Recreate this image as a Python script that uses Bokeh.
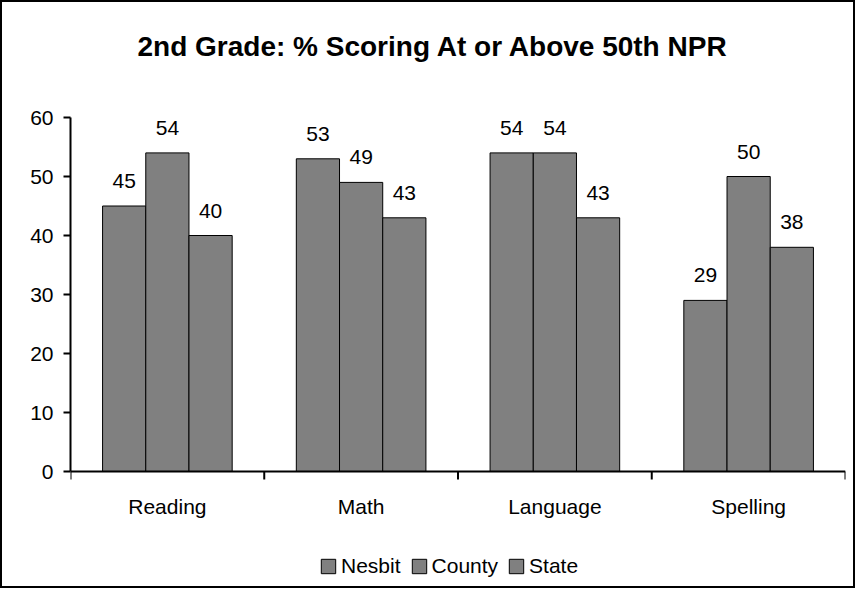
import numpy as np
from bokeh.plotting import figure
from bokeh.models import (Range1d, FixedTicker, LinearAxis, Legend, LegendItem,
                          ColumnDataSource, Span, Label)
from bokeh.core.properties import value
from bokeh.embed import file_html
from bokeh.resources import INLINE

categories = ["Reading", "Math", "Language", "Spelling"]
series_names = ["Nesbit", "County", "State"]
nesbit = [45, 53, 54, 29]
county = [54, 49, 54, 50]
state = [40, 43, 43, 38]
y_ticks = [0, 10, 20, 30, 40, 50, 60]
title_text = "2nd Grade: % Scoring At or Above 50th NPR"

FONT = "Liberation Sans"
BAR_COLOR = "#808080"
BAR_W = 0.223

# layout (pixels)
FRAME_W = 775
PLOT_H = 354            # pixel height of the 0..60 value span
ABOVE = 113             # frame space above the value 60 (title area)
BELOW = 115             # frame space below the value 0 (labels + legend)
FRAME_H = ABOVE + PLOT_H + BELOW

n = len(categories)
centers = np.arange(n) + 0.5
bounds = list(np.arange(n + 1).astype(float))
ymax = y_ticks[-1]
px = PLOT_H / ymax

p = figure(frame_width=FRAME_W, frame_height=FRAME_H, output_backend="svg",
           toolbar_location=None,
           x_range=Range1d(0, n), y_range=Range1d(-BELOW / px, ymax + ABOVE / px),
           x_axis_type=None, y_axis_type=None,
           min_border_left=68, min_border_right=8,
           min_border_top=2, min_border_bottom=0)
p.outline_line_color = None
p.xgrid.visible = False
p.ygrid.visible = False
p.styles = {"border": "2px solid black"}

renderers = []
for i, (name, vals) in enumerate(zip(series_names, [nesbit, county, state])):
    xs = centers + (i - 1) * BAR_W
    src = ColumnDataSource(dict(x=xs, top=vals, label=[str(v) for v in vals]))
    r = p.vbar(x="x", top="top", width=BAR_W, source=src, fill_color=BAR_COLOR,
               line_color="black", line_width=1)
    renderers.append((name, r))
    p.text(x="x", y="top", text="label", source=src, text_align="center",
           text_baseline="alphabetic", y_offset=-25, text_font=value(FONT),
           text_font_size="21px", text_color="black")

# y axis (real axis, line limited to the value span)
yaxis = LinearAxis(ticker=FixedTicker(ticks=y_ticks), bounds=(y_ticks[0], ymax))
yaxis.axis_line_width = 2
yaxis.major_tick_line_width = 2
yaxis.major_tick_out = 7
yaxis.major_tick_in = 0
yaxis.minor_tick_line_color = None
yaxis.major_label_text_font = FONT
yaxis.major_label_text_font_size = "21px"
yaxis.major_label_text_color = "black"
yaxis.major_label_standoff = 10
p.add_layout(yaxis, "left")

# x axis: baseline, separator ticks and category labels
p.add_layout(Span(location=0, dimension="width", line_color="black", line_width=2))
p.ray(x=bounds, y=[0] * len(bounds), length=8, length_units="screen",
      angle=-np.pi / 2, line_color="black", line_width=2)
p.text(x=list(centers), y=[0] * n, text=categories, text_align="center",
       text_baseline="middle", y_offset=35, text_font=value(FONT),
       text_font_size="21px", text_color="black")

# title
p.add_layout(Label(x=67, y=FRAME_H - 42, x_units="screen", y_units="screen",
                   text=title_text, text_font=FONT, text_font_size="28px",
                   text_font_style="bold", text_color="black",
                   text_baseline="middle", text_align="left"))

legend = Legend(items=[LegendItem(label=nm, renderers=[r]) for nm, r in renderers],
                orientation="horizontal", location=(249, 8),
                glyph_width=18, glyph_height=18, label_standoff=4, spacing=9,
                padding=0, margin=0, border_line_color=None,
                background_fill_alpha=0,
                label_text_font=FONT, label_text_font_size="21px",
                label_text_color="black")
p.add_layout(legend, "center")

open("out.html", "w").write(file_html(p, INLINE))
